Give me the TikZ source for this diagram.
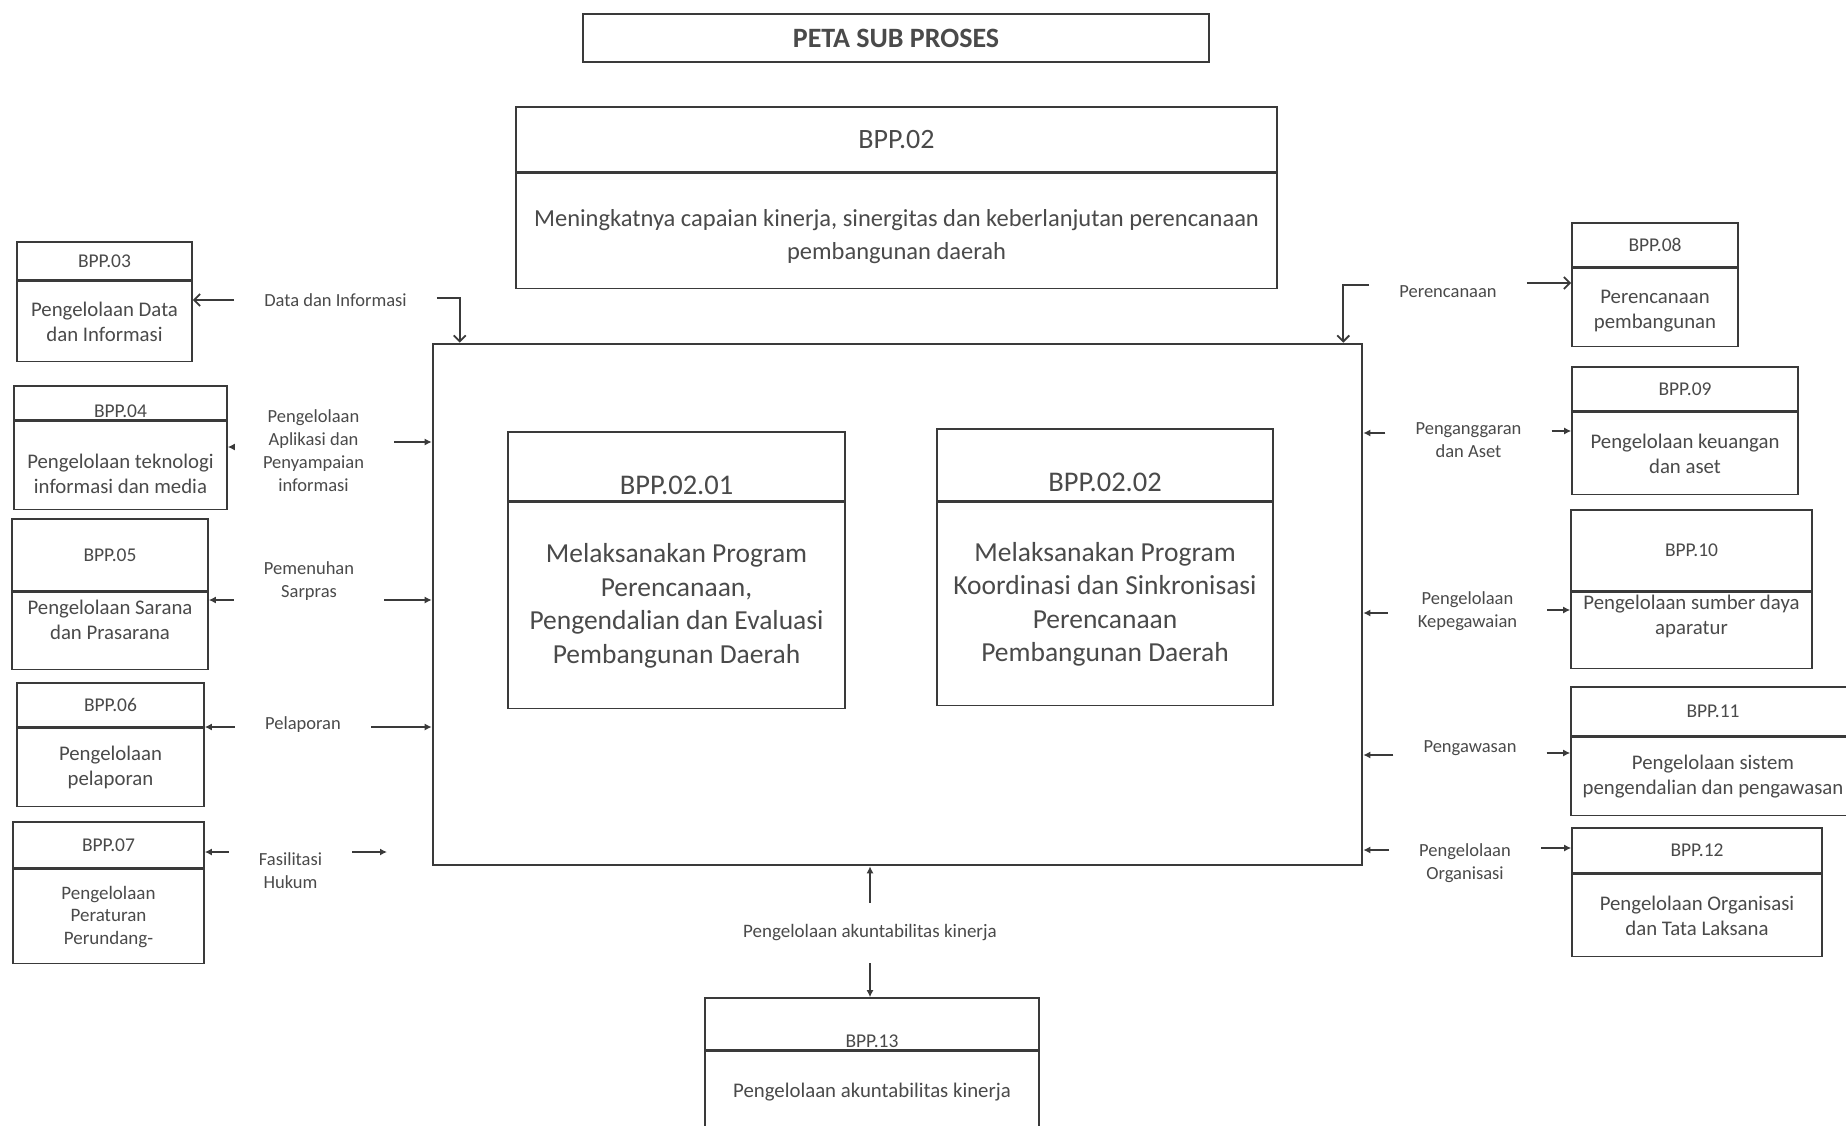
\documentclass[tikz,border=0pt]{standalone}
\usepackage{fontspec}
\setmainfont{Carlito}
\usetikzlibrary{positioning,arrows.meta}
\definecolor{ln}{HTML}{3A3A3A}
\definecolor{tx}{HTML}{4A4A4A}

\tikzset{
  hdr/.style={draw=ln, line width=1.6pt, inner sep=0pt, text=tx, font=\fontsize{19.5}{23}\selectfont},
  bdy/.style={draw=ln, line width=1.6pt, inner sep=0pt, text=tx, align=center, font=\fontsize{20.8}{25}\selectfont},
  flow/.style={text=tx, align=center, inner xsep=30pt, font=\fontsize{18.5}{23}\selectfont},
  tipS/.style={draw=ln, line width=1.8pt, -{Latex[length=7pt,width=7pt]}},
  tipO/.style={draw=ln, line width=1.8pt, -{Straight Barb[length=6pt,width=12pt]}},
}

\begin{document}
\begin{tikzpicture}[x=1pt, y=-1pt]
\useasboundingbox[fill=white] (0,0) rectangle (1846,1126);
\clip (0,0) rectangle (1846,1126);

\node[hdr, font=\bfseries\fontsize{28}{32}\selectfont, minimum width=626pt, minimum height=48pt] (title) at (896,38) {PETA SUB PROSES};

\node[hdr, font=\fontsize{28}{32}\selectfont, minimum width=761pt, minimum height=65pt] (b02h) at (896.5,139.5) {BPP.02};
\node[bdy, font=\fontsize{24.5}{33}\selectfont, minimum width=761pt, minimum height=115pt, text height=62pt, below=0pt of b02h] (b02)
  {Meningkatnya capaian kinerja, sinergitas dan keberlanjutan perencanaan\\pembangunan daerah};

\node[draw=ln, line width=2.6pt, minimum width=929pt, minimum height=521pt] (main) at (897.5,604.5) {};

\node[hdr, font=\fontsize{28.5}{33}\selectfont, minimum width=337pt, minimum height=69pt, text height=60pt, text depth=5pt] (s01h) at (676.5,466.5) {BPP.02.01};
\node[bdy, font=\fontsize{27.5}{33.5}\selectfont, minimum width=337pt, minimum height=206pt, below=0pt of s01h] (s01)
  {Melaksanakan Program\\Perencanaan,\\Pengendalian dan Evaluasi\\Pembangunan Daerah};

\node[hdr, font=\fontsize{28.5}{33}\selectfont, minimum width=336pt, minimum height=72pt, text height=57pt, text depth=5pt] (s02h) at (1105,465) {BPP.02.02};
\node[bdy, font=\fontsize{27.5}{33.5}\selectfont, minimum width=336pt, minimum height=203pt, below=0pt of s02h] (s02)
  {Melaksanakan Program\\Koordinasi dan Sinkronisasi\\Perencanaan\\Pembangunan Daerah};

% kiri
\node[hdr, minimum width=175pt, minimum height=38pt] (b03h) at (104.5,261) {BPP.03};
\node[bdy, minimum width=175pt, minimum height=80pt, below=0pt of b03h] (b03) {Pengelolaan Data\\dan Informasi};

\node[hdr, minimum width=213pt, minimum height=32pt, text height=31pt, text depth=3pt] (b04h) at (120.5,403) {BPP.04};
\node[bdy, minimum width=213pt, minimum height=88pt, text height=56pt, below=0pt of b04h] (b04) {Pengelolaan teknologi\\informasi dan media};

\node[hdr, minimum width=196pt, minimum height=72pt] (b05h) at (110,555) {BPP.05};
\node[bdy, minimum width=196pt, minimum height=77pt, text depth=23pt, below=0pt of b05h] (b05) {Pengelolaan Sarana\\dan Prasarana};

\node[hdr, minimum width=187pt, minimum height=44pt] (b06h) at (110.5,705) {BPP.06};
\node[bdy, minimum width=187pt, minimum height=78pt, below=0pt of b06h] (b06) {Pengelolaan\\pelaporan};

\node[hdr, minimum width=191pt, minimum height=46pt] (b07h) at (108.5,845) {BPP.07};
\node[bdy, font=\fontsize{19}{22.5}\selectfont, minimum width=191pt, minimum height=94pt, below=0pt of b07h] (b07) {Pengelolaan\\Peraturan\\Perundang-};

% kanan
\node[hdr, minimum width=166pt, minimum height=44pt] (b08h) at (1655,245) {BPP.08};
\node[bdy, minimum width=166pt, minimum height=78pt, text height=46pt, below=0pt of b08h] (b08) {Perencanaan\\pembangunan};

\node[hdr, minimum width=226pt, minimum height=44pt] (b09h) at (1685,389) {BPP.09};
\node[bdy, minimum width=226pt, minimum height=82pt, below=0pt of b09h] (b09) {Pengelolaan keuangan\\dan aset};

\node[hdr, minimum width=241pt, minimum height=81pt] (b10h) at (1691.5,550.5) {BPP.10};
\node[bdy, minimum width=241pt, minimum height=76pt, text depth=32pt, below=0pt of b10h] (b10) {Pengelolaan sumber daya\\aparatur};

\node[hdr, minimum width=284pt, minimum height=49pt] (b11h) at (1713,711.5) {BPP.11};
\node[bdy, minimum width=284pt, minimum height=78pt, below=0pt of b11h] (b11) {Pengelolaan sistem\\pengendalian dan pengawasan};

\node[hdr, minimum width=250pt, minimum height=45pt] (b12h) at (1697,850.5) {BPP.12};
\node[bdy, minimum width=250pt, minimum height=82pt, below=0pt of b12h] (b12) {Pengelolaan Organisasi\\dan Tata Laksana};

% bawah
\node[hdr, minimum width=334pt, minimum height=52pt, text height=49pt, text depth=3pt] (b13h) at (872,1024) {BPP.13};
\node[bdy, minimum width=334pt, minimum height=80pt, below=0pt of b13h] (b13) {Pengelolaan akuntabilitas kinerja};

% label alur
\node[flow] (lData) at (335.5,300) {Data dan Informasi};
\node[flow] (lApl) at (313.5,451) {Pengelolaan\\Aplikasi dan\\Penyampaian\\informasi};
\node[flow] (lSar) at (309,581) {Pemenuhan\\Sarpras};
\node[flow] (lLap) at (303,725) {Pelaporan};
\node[flow] (lHuk) at (290.5,871) {Fasilitasi\\Hukum};
\node[flow] (lRen) at (1448,292) {Perencanaan};
\node[flow] (lAng) at (1468.5,440) {Penganggaran\\dan Aset};
\node[flow] (lPeg) at (1467.5,611) {Pengelolaan\\Kepegawaian};
\node[flow] (lAws) at (1470,748) {Pengawasan};
\node[flow] (lOrg) at (1465,863) {Pengelolaan\\Organisasi};
\node[flow, font=\fontsize{19}{23}\selectfont, inner ysep=22pt] (lAkt) at (870,933) {Pengelolaan akuntabilitas kinerja};
\coordinate (hukEnd) at (387,852);

\draw[tipO] (lData.west) -- (lData.west -| b03h.east);
\draw[tipO] (lData.east |- 0,298) -| ([xshift=28pt]main.north west);
\draw[tipS] (lApl.west |- 0,447) -- (b04h.east |- 0,447);
\draw[tipS] (lApl.east |- 0,442) -- (main.west |- 0,442);
\draw[tipS] (lSar.west |- 0,600) -- (b05h.east |- 0,600);
\draw[tipS] (lSar.east |- 0,600) -- (main.west |- 0,600);
\draw[tipS] (lLap.west |- 0,727) -- (b06h.east |- 0,727);
\draw[tipS] (lLap.east |- 0,727) -- (main.west |- 0,727);
\draw[tipS] (lHuk.west |- 0,852) -- (b07h.east |- 0,852);
\draw[tipS] (lHuk.east |- 0,852) -- (hukEnd);

\draw[tipO] (lRen.west |- 0,285) -| ([xshift=-20pt]main.north east);
\draw[tipO] (lRen.east |- 0,283) -- (b08.west |- 0,283);
\draw[tipS] (lAng.west |- 0,433) -- (main.east |- 0,433);
\draw[tipS] (lAng.east |- 0,431) -- (b09.west |- 0,431);
\draw[tipS] (lPeg.west |- 0,613) -- (main.east |- 0,613);
\draw[tipS] (lPeg.east |- 0,610) -- (b10.west |- 0,610);
\draw[tipS] (lAws.west |- 0,755) -- (main.east |- 0,755);
\draw[tipS] (lAws.east |- 0,753) -- (b11.west |- 0,753);
\draw[tipS] (lOrg.west |- 0,850) -- (main.east |- 0,850);
\draw[tipS] (lOrg.east |- 0,848) -- (b12h.west |- 0,848);

\draw[tipS] (lAkt.north) -- (lAkt.north |- main.south);
\draw[tipS] (lAkt.south) -- (lAkt.south |- b13h.north);

\end{tikzpicture}
\end{document}
